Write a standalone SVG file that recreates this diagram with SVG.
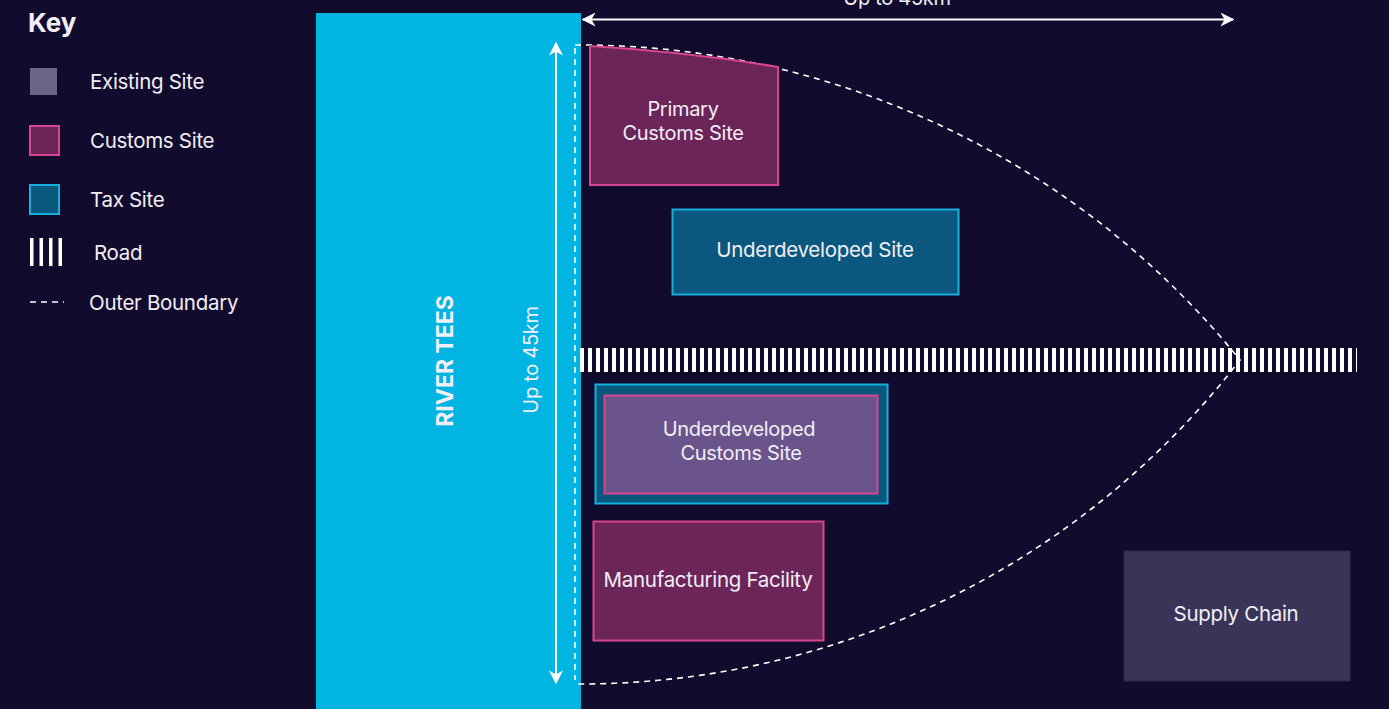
<svg xmlns="http://www.w3.org/2000/svg" width="1389" height="709" viewBox="0 0 1389 709">
<defs>
<style>
text{font-family:Inter,"Liberation Sans",sans-serif;fill:#f2eef6;letter-spacing:-0.3px}
.lbl{font-size:20.5px;text-anchor:middle}
.lbl2{font-size:20px;text-anchor:middle}
.key{font-size:20.5px}
.cust{fill:#6b2559;stroke:#d9448e;stroke-width:2}
.tax{fill:#0a587e;stroke:#15b0de;stroke-width:2}
.dash{fill:none;stroke:#fff;stroke-width:1.6;stroke-dasharray:6 5}
.arr{stroke:#fff;stroke-width:2;fill:none}
</style>
<marker id="ah" viewBox="0 0 10 10" refX="9" refY="5" markerWidth="14" markerHeight="14" markerUnits="userSpaceOnUse" orient="auto-start-reverse">
<path d="M0,0 L10,5 L0,10 L3,5 z" fill="#fff"/>
</marker>
<pattern id="road" x="580" y="0" width="8" height="10" patternUnits="userSpaceOnUse">
<rect x="0" y="0" width="4" height="10" fill="#fff"/>
</pattern>
</defs>
<rect width="1389" height="709" fill="#110b2e"/>
<g id="legend">
<text x="28" y="32" style="font-size:26px;font-weight:700;letter-spacing:0">Key</text>
<rect x="30" y="68" width="27" height="27" fill="#6a6488"/>
<text class="key" x="90" y="89">Existing Site</text>
<rect x="30" y="126" width="29" height="29" class="cust"/>
<text class="key" x="90" y="148">Customs Site</text>
<rect x="30" y="185" width="29" height="29" class="tax"/>
<text class="key" x="90" y="207">Tax Site</text>
<rect x="30" y="238" width="3.5" height="28" fill="#fff"/>
<rect x="39.5" y="238" width="3.5" height="28" fill="#fff"/>
<rect x="49" y="238" width="3.5" height="28" fill="#fff"/>
<rect x="58.5" y="238" width="3.5" height="28" fill="#fff"/>
<text class="key" x="94" y="260">Road</text>
<line x1="30" y1="302" x2="64" y2="302" stroke="#fff" stroke-width="1.6" stroke-dasharray="6 5"/>
<text class="key" x="89" y="310">Outer Boundary</text>
</g>
<g id="river">
<rect x="316" y="13" width="265" height="696" fill="#00b5e2"/>
<text transform="translate(453,361) rotate(-90)" style="font-size:23px;font-weight:700;text-anchor:middle;letter-spacing:0">RIVER TEES</text>
</g>
<g id="road-g">
<rect x="580" y="348" width="777" height="24" fill="url(#road)"/>
</g>
<g id="connectors">
<line class="arr" x1="583" y1="19.5" x2="1233" y2="19.5" marker-start="url(#ah)" marker-end="url(#ah)"/>
<text x="897" y="5" class="lbl" style="font-size:20px">Up to 45km</text>
<line class="arr" x1="556" y1="43" x2="556" y2="683" marker-start="url(#ah)" marker-end="url(#ah)"/>
<text transform="translate(538,360) rotate(-90)" class="lbl" style="font-size:20px">Up to 45km</text>
<line class="dash" x1="575" y1="48" x2="575" y2="680"/>
<path class="dash" d="M575,45 L580,45 A849,849 0 0 1 1240,360 A834,834 0 0 1 580,684 L575,684"/>
</g>
<g id="primary-customs">
<path class="cust" d="M590,46 Q690,52 778,67 L778,185 L590,185 Z"/>
<text class="lbl2" x="683" y="116">Primary</text>
<text class="lbl2" x="683" y="140">Customs Site</text>
</g>
<g id="underdeveloped-site">
<rect class="tax" x="672.5" y="209.5" width="286" height="85"/>
<text class="lbl" x="815" y="257">Underdeveloped Site</text>
</g>
<g id="underdeveloped-customs">
<rect class="tax" x="595.5" y="384.5" width="292" height="119"/>
<rect x="604.5" y="395.5" width="273" height="98" fill="#6a548b" stroke="#d9448e" stroke-width="2"/>
<text class="lbl2" x="739" y="436">Underdeveloped</text>
<text class="lbl2" x="741" y="460">Customs Site</text>
</g>
<g id="manufacturing">
<rect class="cust" x="593.5" y="521.5" width="230" height="119"/>
<text class="lbl" x="708" y="587">Manufacturing Facility</text>
</g>
<g id="supply-chain">
<rect x="1124" y="551" width="226" height="130" fill="#3a3558" stroke="#2e2a4e" stroke-width="1"/>
<text class="lbl" x="1236" y="621">Supply Chain</text>
</g>
</svg>
